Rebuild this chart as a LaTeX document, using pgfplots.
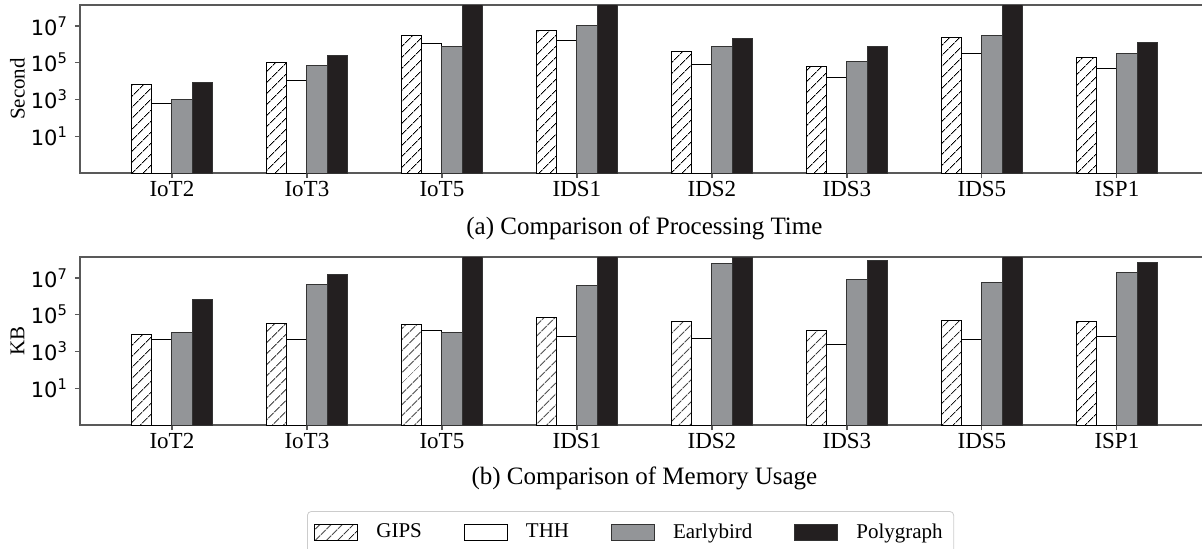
\documentclass[border=0pt]{standalone}
\usepackage{pgfplots}
\pgfplotsset{compat=1.18}
\usepackage{pgfplotstable}
\usetikzlibrary{patterns.meta}
\usepackage{fontspec}
\setmainfont{Liberation Serif}
\newfontfamily\dejavu{DejaVu Sans}
\newfontfamily\lserif{Liberation Serif}
\definecolor{ebgray}{HTML}{939598}
\definecolor{polyblack}{HTML}{231F20}

\pgfplotstableread{
x gips thh eb poly
0 6.2e3 600 980 8.0e3
1 1.05e5 1.07e4 6.7e4 2.6e5
2 2.9e6 1.15e6 7.2e5 1e9
3 5.9e6 1.6e6 1.1e7 1e9
4 4.0e5 8.5e4 7.5e5 2.1e6
5 6.2e4 1.5e4 1.15e5 7.2e5
6 2.3e6 3.3e5 3.1e6 1e9
7 2.0e5 4.8e4 3.0e5 1.2e6
}\timetable

\pgfplotstableread{
x gips thh eb poly
0 8.1e3 4.5e3 1.07e4 6.6e5
1 3.3e4 4.3e3 4.3e6 1.5e7
2 2.8e4 1.4e4 1.07e4 1e9
3 7.0e4 6.8e3 4.0e6 1e9
4 4.2e4 5.2e3 5.8e7 1.25e8
5 1.4e4 2.5e3 8.5e6 9.3e7
6 4.7e4 4.7e3 6.0e6 1e9
7 4.5e4 6.3e3 2.1e7 6.9e7
}\memtable

\pgfplotsset{
  bgips/.style={ybar, bar width=0.15, bar shift=-0.225, draw=black, line width=0.5pt, fill=white,
     postaction={pattern={Lines[angle=45,distance=4pt,line width=0.45pt]}}},
  bthh/.style={ybar, bar width=0.15, bar shift=-0.075, draw=black, line width=0.5pt, fill=white},
  beb/.style={ybar, bar width=0.15, bar shift=0.075, draw=black!80, line width=0.5pt, fill=ebgray},
  bpoly/.style={ybar, bar width=0.15, bar shift=0.225, draw=black!80, line width=0.5pt, fill=polyblack},
}

\begin{document}
\begin{tikzpicture}
\begin{axis}[
    scale only axis,
    width=564.4pt, height=84pt,
    at={(40pt,187.5pt)}, anchor=south west,
    xmin=-0.681, xmax=7.681,
    ymode=log, ymin=0.1, ymax=1.38e8,
    log origin=infty,
    xtick={0,1,2,3,4,5,6,7},
    xticklabels={IoT2,IoT3,IoT5,IDS1,IDS2,IDS3,IDS5,ISP1},
    ytick={10,1000,100000,10000000},
    yticklabels={10\textsuperscript{1},10\textsuperscript{3},10\textsuperscript{5},10\textsuperscript{7}},
    minor ytick={},
    tick align=outside,
    xtick pos=bottom, ytick pos=left,
    major tick length=2.5pt,
    axis line style={black!65, line width=0.6pt},
    every tick/.style={black!65, line width=0.6pt},
    xticklabel style={font=\fontsize{11.5}{13}\selectfont, yshift=2pt},
    yticklabel style={font=\dejavu\fontsize{10.5}{12}\selectfont},
    ylabel={Second},
    ylabel style={font=\fontsize{10.5}{12}\selectfont, at={(axis description cs:-0.0554,0.5)}, anchor=center},
    xlabel={(a) Comparison of Processing Time},
    xlabel style={font=\fontsize{12.5}{14}\selectfont, at={(axis description cs:0.5,-0.33)}, anchor=center},
]
\addplot[bgips] table[x=x,y=gips] {\timetable};
\addplot[bthh] table[x=x,y=thh] {\timetable};
\addplot[beb] table[x=x,y=eb] {\timetable};
\addplot[bpoly] table[x=x,y=poly] {\timetable};
\end{axis}

\begin{axis}[
    scale only axis,
    width=564.4pt, height=84pt,
    at={(40pt,61.5pt)}, anchor=south west,
    xmin=-0.681, xmax=7.681,
    ymode=log, ymin=0.1, ymax=1.38e8,
    log origin=infty,
    xtick={0,1,2,3,4,5,6,7},
    xticklabels={IoT2,IoT3,IoT5,IDS1,IDS2,IDS3,IDS5,ISP1},
    ytick={10,1000,100000,10000000},
    yticklabels={10\textsuperscript{1},10\textsuperscript{3},10\textsuperscript{5},10\textsuperscript{7}},
    minor ytick={},
    tick align=outside,
    xtick pos=bottom, ytick pos=left,
    major tick length=2.5pt,
    axis line style={black!65, line width=0.6pt},
    every tick/.style={black!65, line width=0.6pt},
    xticklabel style={font=\fontsize{11.5}{13}\selectfont, yshift=2pt},
    yticklabel style={font=\dejavu\fontsize{10.5}{12}\selectfont},
    ylabel={KB},
    ylabel style={font=\fontsize{10.5}{12}\selectfont, at={(axis description cs:-0.0554,0.5)}, anchor=center},
    xlabel={(b) Comparison of Memory Usage},
    xlabel style={font=\fontsize{12.5}{14}\selectfont, at={(axis description cs:0.5,-0.318)}, anchor=center},
    legend columns=4,
    legend style={at={(axis description cs:0.2011,-0.512)}, anchor=north west,
      draw=black!20, rounded corners=2pt, font=\lserif\fontsize{10.5}{12}\selectfont,
      inner xsep=3.5pt, inner ysep=4pt,
      /tikz/every even column/.append style={column sep=19pt},
      /tikz/every odd column/.append style={column sep=7pt}},
    legend image code/.code={\draw[#1, sharp corners] (0pt,-4pt) rectangle (21.5pt,4pt);},
]
\addplot[bgips] table[x=x,y=gips] {\memtable};
\addlegendentry{GIPS}
\addplot[bthh] table[x=x,y=thh] {\memtable};
\addlegendentry{THH}
\addplot[beb] table[x=x,y=eb] {\memtable};
\addlegendentry{Earlybird}
\addplot[bpoly] table[x=x,y=poly] {\memtable};
\addlegendentry{Polygraph}
\end{axis}
\pgfresetboundingbox
\path[use as bounding box] (0,0) rectangle (601pt,274pt);
\end{tikzpicture}
\end{document}
